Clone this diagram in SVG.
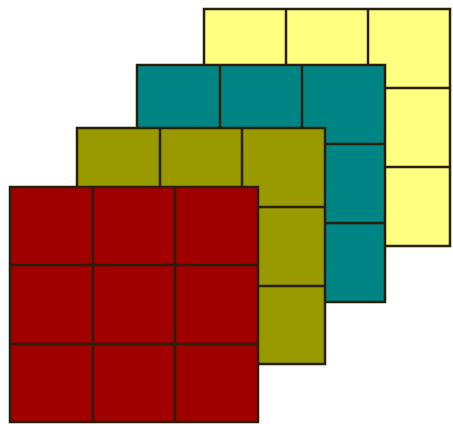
<svg xmlns="http://www.w3.org/2000/svg" width="453" height="424" viewBox="0 0 453 424">
<style>
.g{stroke:#2a1f0a;stroke-width:2.5}
.yl{fill:#ffff80}
.tl{fill:#008585}
.ol{fill:#999900}
.rd{fill:#a00000}
.ln{stroke:#2a1f0a;stroke-width:2.5;fill:none}
</style>
<rect width="453" height="424" fill="#ffffff"/>
<g id="yellow">
<rect class="g yl" x="204" y="9" width="246" height="237"/>
<path class="ln" d="M286 9V246M368 9V246M204 88H450M204 167H450"/>
</g>
<g id="teal">
<rect class="g tl" x="137" y="65" width="248" height="237"/>
<path class="ln" d="M220 65V302M302 65V302M137 144H385M137 223H385"/>
</g>
<g id="olive">
<rect class="g ol" x="77" y="128" width="248" height="236"/>
<path class="ln" d="M160 128V364M242 128V364M77 207H325M77 286H325"/>
</g>
<g id="red">
<rect class="g rd" x="10" y="187" width="248" height="235"/>
<path class="ln" d="M93 187V422M175 187V422M10 265H258M10 344H258"/>
</g>
</svg>
